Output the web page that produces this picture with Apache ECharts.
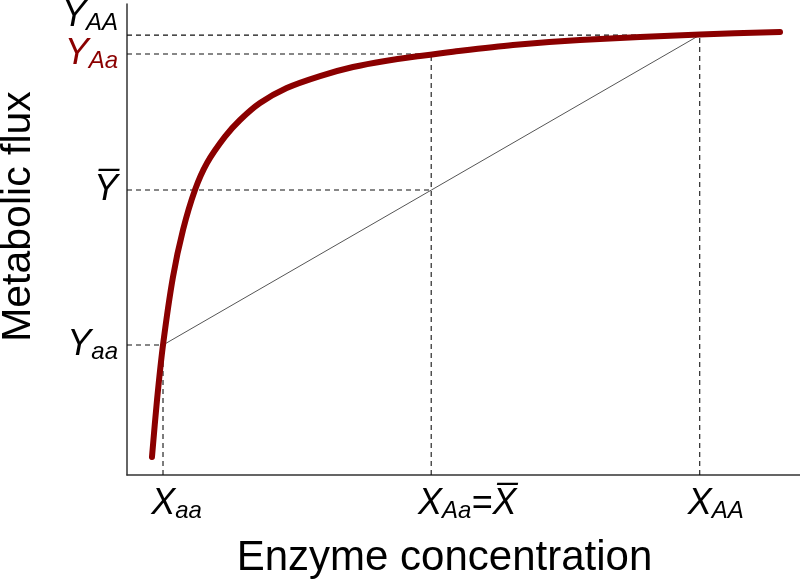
<!DOCTYPE html>
<html>
<head>
<meta charset="utf-8">
<script src="https://cdn.jsdelivr.net/npm/echarts/dist/echarts.min.js"></script>
<style>
html, body { margin:0; padding:0; background:#fff; }
#chart { width:800px; height:581px; }
</style>
</head>
<body>
<div id="chart"></div>
<script>
// saturating flux curve (arbitrary units, 0-10 on both axes)
var curveX = [0.371, 0.446, 0.539, 0.683, 0.832, 1.010, 1.189, 1.456, 1.679, 1.976, 2.373, 2.868, 3.358, 3.859, 4.354, 4.844, 5.735, 6.731, 8.514, 9.703];
var curveY = [0.382, 1.592, 2.803, 4.204, 5.202, 6.051, 6.624, 7.183, 7.537, 7.898, 8.217, 8.471, 8.662, 8.796, 8.896, 8.987, 9.130, 9.236, 9.352, 9.406];

// genotypes aa, Aa, AA
var genoX = [0.535, 4.52, 8.51];
var genoY = [2.76, 8.94, 9.34];
var meanY = 6.05;

var xTickLabels = ['{xa|X}{s|aa}', '{xm|X}{s|Aa}{m|=X\u0305}', '{xA|X}{s|AA}'];
var yTickValues = [genoY[0], meanY, genoY[1]];
var yTickLabels = ['{y|Y}{s|aa}', '{y|Y\u0305}', '{r|Y}{rs|Aa}'];
var yTopLabel = '{y|Y}{s|AA}';

var font = 'Liberation Sans, Arial, sans-serif';
var dark = '#8b0000';

function pick(vals, labels, v) {
  var best = 0;
  vals.forEach(function (t, i) { if (Math.abs(t - v) < Math.abs(vals[best] - v)) best = i; });
  return labels[best];
}

// dashed guide lines from the axes to each point
var guides = [
  [[0, genoY[2]], [genoX[2], genoY[2]]],
  [[0, genoY[1]], [genoX[1], genoY[1]]],
  [[0, meanY], [genoX[1], meanY]],
  [[0, genoY[0]], [genoX[0], genoY[0]]],
  [[genoX[0], 0], [genoX[0], genoY[0]]],
  [[genoX[1], 0], [genoX[1], genoY[1]]],
  [[genoX[2], 0], [genoX[2], genoY[2]]]
];

var series = guides.map(function (seg) {
  return {
    type: 'line', data: seg, symbol: 'none', silent: true,
    lineStyle: { color: '#111', width: 1.1, type: [5, 4] }
  };
});
series.push({
  type: 'line', symbol: 'none', silent: true,
  data: [[genoX[0], genoY[0]], [genoX[2], genoY[2]]],
  lineStyle: { color: '#555', width: 1 }
});
series.push({
  type: 'line', symbol: 'none', smooth: 0.3,
  data: curveX.map(function (x, i) { return [x, curveY[i]]; }),
  lineStyle: { color: dark, width: 6, cap: 'round', join: 'round' }
});

var sub = { fontSize: 24, fontStyle: 'italic', fontFamily: font, color: '#000', verticalAlign: 'bottom', lineHeight: 22 };
var main = { fontSize: 36, fontStyle: 'italic', fontFamily: font, color: '#000', lineHeight: 38 };
var yRich = {
  y: main,
  s: sub,
  r: Object.assign({}, main, { color: dark }),
  rs: Object.assign({}, sub, { color: dark })
};

var chart = echarts.init(document.getElementById('chart'));
chart.setOption({
  animation: false,
  grid: { left: 127, right: 0, top: 4, bottom: 106, containLabel: false, outerBoundsMode: 'none' },
  xAxis: {
    type: 'value', min: 0, max: 10,
    name: 'Enzyme concentration', nameLocation: 'middle', nameGap: 62,
    nameTextStyle: { fontSize: 42, fontFamily: font, color: '#000', padding: [0, 38, 0, 0] },
    axisLine: { show: true, lineStyle: { color: '#333', width: 1.5 } },
    axisTick: { show: false },
    splitLine: { show: false },
    axisLabel: {
      customValues: genoX, margin: 10, hideOverlap: false,
      formatter: function (v) { return pick(genoX, xTickLabels, v); },
      rich: {
        xa: Object.assign({}, main, { padding: [0, 0, 0, 27] }),
        xm: Object.assign({}, main, { padding: [0, 0, 0, 72] }),
        xA: Object.assign({}, main, { padding: [0, 0, 0, 32] }),
        m: main,
        s: sub
      }
    }
  },
  yAxis: [{
    type: 'value', min: 0, max: 10,
    name: 'Metabolic flux', nameLocation: 'middle', nameGap: 88, nameRotate: 90,
    nameTextStyle: { fontSize: 41, fontFamily: font, color: '#000', padding: [0, 0, 0, 46] },
    axisLine: { show: true, lineStyle: { color: '#333', width: 1.5 } },
    axisTick: { show: false },
    splitLine: { show: false },
    axisLabel: {
      customValues: yTickValues, margin: 9, hideOverlap: false,
      showMaxLabel: true, showMinLabel: true,
      formatter: function (v) { return pick(yTickValues, yTickLabels, v); },
      rich: yRich
    }
  }, {
    // Y_AA label sits above its guide line, so it gets its own label-only axis
    type: 'value', min: 0, max: 10, position: 'left', offset: 0,
    axisLine: { show: false },
    axisTick: { show: false },
    splitLine: { show: false },
    axisLabel: {
      customValues: [genoY[2]], margin: 9, verticalAlign: 'bottom',
      showMaxLabel: true, showMinLabel: true,
      formatter: function () { return yTopLabel; },
      rich: yRich
    }
  }],
  series: series
});
</script>
</body>
</html>
